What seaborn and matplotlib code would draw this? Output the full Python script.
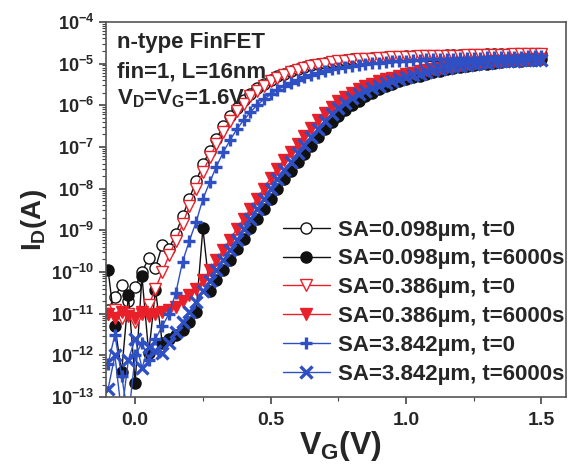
import numpy as np
import matplotlib
matplotlib.use("Agg")
import matplotlib.pyplot as plt
import seaborn as sns
from matplotlib.ticker import LogLocator, FixedLocator, FixedFormatter, NullFormatter, FuncFormatter

# gate voltage sweep (V)
vg = [-0.1, -0.075, -0.05, -0.025, 0.0, 0.025, 0.05, 0.075, 0.1, 0.125,
      0.15, 0.175, 0.2, 0.225, 0.25, 0.275, 0.3, 0.325, 0.35, 0.375,
      0.4, 0.425, 0.45, 0.475, 0.5, 0.525, 0.55, 0.575, 0.6, 0.625,
      0.65, 0.675, 0.7, 0.725, 0.75, 0.775, 0.8, 0.825, 0.85, 0.875,
      0.9, 0.925, 0.95, 0.975, 1.0, 1.025, 1.05, 1.075, 1.1, 1.125,
      1.15, 1.175, 1.2, 1.225, 1.25, 1.275, 1.3, 1.325, 1.35, 1.375,
      1.4, 1.425, 1.45, 1.475, 1.5]

# log10(ID / A)
sa098_t0 = [-10.9, -10.6, -10.3, -10.7, -10.36, -10.0, -9.67, -9.9, -9.35, -9.45,
            -9.08, -8.66, -8.24, -7.82, -7.42, -7.1, -6.8, -6.5, -6.26, -6.06,
            -5.88, -5.72, -5.59, -5.48, -5.39, -5.31, -5.24, -5.18, -5.13, -5.08,
            -5.04, -5.01, -4.98, -4.96, -4.94, -4.92, -4.90, -4.89, -4.88, -4.87,
            -4.86, -4.85, -4.84, -4.84, -4.83, -4.83, -4.82, -4.82, -4.81, -4.81,
            -4.80, -4.80, -4.80, -4.79, -4.79, -4.79, -4.78, -4.78, -4.78, -4.78,
            -4.77, -4.77, -4.77, -4.77, -4.76]
sa098_t6000 = [-9.95, -11.3, -12.4, -10.55, -12.65, -10.1, -11.95, -10.43, -11.7, -11.6,
               -11.5, -11.4, -11.2, -10.95, -8.95, -10.45, -10.2, -9.95, -9.7, -9.45,
               -9.2, -8.95, -8.72, -8.48, -8.24, -8.0, -7.78, -7.57, -7.37, -7.17,
               -6.97, -6.77, -6.58, -6.41, -6.26, -6.12, -6.0, -5.89, -5.79, -5.70,
               -5.62, -5.55, -5.49, -5.43, -5.38, -5.33, -5.29, -5.25, -5.21, -5.17,
               -5.14, -5.11, -5.08, -5.06, -5.04, -5.02, -5.00, -4.98, -4.97, -4.95,
               -4.94, -4.93, -4.92, -4.91, -4.90]
sa386_t0 = [-11.0, -10.9, -11.1, -11.0, -11.2, -11.0, -10.8, -10.4, -10.0, -9.6,
            -9.25, -8.85, -8.42, -8.0, -7.6, -7.25, -6.93, -6.63, -6.37, -6.15,
            -5.96, -5.79, -5.65, -5.53, -5.43, -5.35, -5.27, -5.21, -5.15, -5.10,
            -5.06, -5.03, -5.00, -4.97, -4.95, -4.93, -4.91, -4.90, -4.89, -4.88,
            -4.87, -4.86, -4.85, -4.85, -4.84, -4.84, -4.83, -4.83, -4.82, -4.82,
            -4.81, -4.81, -4.81, -4.80, -4.80, -4.80, -4.79, -4.79, -4.79, -4.79,
            -4.78, -4.78, -4.78, -4.78, -4.77]
sa386_t6000 = [-11.0, -11.1, -10.95, -11.05, -11.1, -10.95, -11.05, -11.0, -10.95, -10.9,
               -10.85, -10.7, -10.55, -10.4, -10.2, -9.96, -9.71, -9.47, -9.22, -8.97,
               -8.73, -8.49, -8.24, -8.0, -7.75, -7.52, -7.31, -7.11, -6.92, -6.73,
               -6.54, -6.36, -6.19, -6.04, -5.91, -5.80, -5.70, -5.62, -5.55, -5.49,
               -5.43, -5.38, -5.34, -5.30, -5.26, -5.22, -5.19, -5.16, -5.13, -5.10,
               -5.08, -5.05, -5.03, -5.01, -4.99, -4.98, -4.96, -4.95, -4.94, -4.93,
               -4.92, -4.91, -4.90, -4.90, -4.89]
sa3842_t0 = [-12.2, -11.5, -12.5, -13.5, -12.0, -11.7, -12.1, -11.6, -11.3, -11.0,
             -10.5, -9.75, -9.25, -8.8, -8.25, -7.85, -7.47, -7.13, -6.84, -6.58,
             -6.36, -6.17, -6.0, -5.86, -5.74, -5.63, -5.54, -5.46, -5.39, -5.33,
             -5.27, -5.22, -5.18, -5.14, -5.11, -5.08, -5.05, -5.03, -5.01, -4.99,
             -4.98, -4.96, -4.95, -4.94, -4.93, -4.92, -4.91, -4.90, -4.90, -4.89,
             -4.88, -4.88, -4.87, -4.87, -4.86, -4.86, -4.85, -4.85, -4.85, -4.84,
             -4.84, -4.84, -4.83, -4.83, -4.83]
sa3842_t6000 = [-12.8, -12.0, -13.4, -12.1, -11.6, -12.3, -11.8, -11.9, -11.95, -11.7,
                -11.45, -11.2, -10.95, -10.71, -10.46, -10.21, -9.96, -9.72, -9.47, -9.22,
                -8.98, -8.74, -8.49, -8.25, -8.0, -7.76, -7.55, -7.35, -7.15, -6.95,
                -6.75, -6.56, -6.37, -6.2, -6.06, -5.94, -5.83, -5.74, -5.66, -5.59,
                -5.53, -5.47, -5.42, -5.37, -5.32, -5.28, -5.24, -5.20, -5.16, -5.13,
                -5.10, -5.07, -5.05, -5.03, -5.01, -4.99, -4.98, -4.96, -4.95, -4.94,
                -4.93, -4.92, -4.92, -4.91, -4.91]

labels = ["SA=0.098µm, t=0", "SA=0.098µm, t=6000s",
          "SA=0.386µm, t=0", "SA=0.386µm, t=6000s",
          "SA=3.842µm, t=0", "SA=3.842µm, t=6000s"]

BLACK, RED, BLUE = "#111111", "#e8202a", "#2f4fc4"
styles = [
    (sa098_t0, "o", BLACK, "white", 1.0),
    (sa098_t6000, "o", BLACK, BLACK, 1.0),
    (sa386_t0, "v", RED, "white", 1.0),
    (sa386_t6000, "v", RED, RED, 1.0),
    (sa3842_t0, "+", BLUE, BLUE, 2.4),
    (sa3842_t6000, "x", BLUE, BLUE, 2.4),
]

sns.set_style("ticks")
plt.rcParams["font.family"] = ["Liberation Sans", "DejaVu Sans"]
plt.rcParams["font.weight"] = "bold"
plt.rcParams["axes.labelweight"] = "bold"
plt.rcParams["mathtext.fontset"] = "custom"
plt.rcParams["mathtext.rm"] = "Liberation Sans:bold"
plt.rcParams["mathtext.it"] = "Liberation Sans:bold"
plt.rcParams["mathtext.bf"] = "Liberation Sans:bold"

fig = plt.figure(figsize=(5.68, 4.65), dpi=100)
ax = fig.add_axes([0.187, 0.146, 0.809, 0.807])

for (vals, mk, col, fc, mew), lab in zip(styles, labels):
    sns.lineplot(x=vg, y=10.0 ** np.array(vals), ax=ax, sort=False, estimator=None,
                 color=col, marker=mk, markersize=8, markerfacecolor=fc,
                 markeredgecolor=col, markeredgewidth=mew, linewidth=1.0, label=lab)

ax.set_yscale("log")
ax.set_ylim(1e-13, 1e-4)
ax.set_xlim(-0.107, 1.59)
ax.yaxis.set_major_locator(LogLocator(base=10, numticks=20))
ax.yaxis.set_major_formatter(FuncFormatter(lambda v, p: r"$\mathbf{10^{%d}}$" % round(np.log10(v))))
ax.yaxis.set_minor_locator(LogLocator(base=10, subs=np.arange(2, 10), numticks=20))
ax.yaxis.set_minor_formatter(NullFormatter())
ax.xaxis.set_major_locator(FixedLocator([0.0, 0.5, 1.0, 1.5]))
ax.xaxis.set_major_formatter(FixedFormatter(["0.0", "0.5", "1.0", "1.5"]))
ax.xaxis.set_minor_locator(FixedLocator([0.25, 0.75, 1.25]))

ax.tick_params(which="both", direction="out", top=False, right=False, color="#444444")
ax.tick_params(axis="y", which="major", length=5, width=1.2, labelsize=13)
ax.tick_params(axis="x", which="major", length=5, width=1.2, labelsize=14, pad=6)
ax.tick_params(which="minor", length=3, width=0.8)
for sp in ax.spines.values():
    sp.set_visible(True)
    sp.set_color("#555555")
    sp.set_linewidth(1.2)

ax.set_xlabel(r"V$_\mathbf{G}$(V)", fontsize=23, fontweight="bold")
ax.set_ylabel(r"I$_\mathbf{D}$(A)", fontsize=20, fontweight="bold")
ax.xaxis.set_label_coords(0.51, -0.085)
ax.yaxis.set_label_coords(-0.125, 0.472)

ax.text(0.024, 0.944, "n-type FinFET", transform=ax.transAxes, fontsize=16, va="center")
ax.text(0.024, 0.867, "fin=1, L=16nm", transform=ax.transAxes, fontsize=16, va="center")
ax.text(0.024, 0.795, r"V$_\mathbf{D}$=V$_\mathbf{G}$=1.6V", transform=ax.transAxes,
        fontsize=16, va="center")

ax.legend(loc="upper left", bbox_to_anchor=(0.385, 0.473), frameon=False, fontsize=16,
          handlelength=2.1, handletextpad=0.36, labelspacing=0.35, borderaxespad=0,
          borderpad=0)

fig.savefig("out.png", dpi=100)
